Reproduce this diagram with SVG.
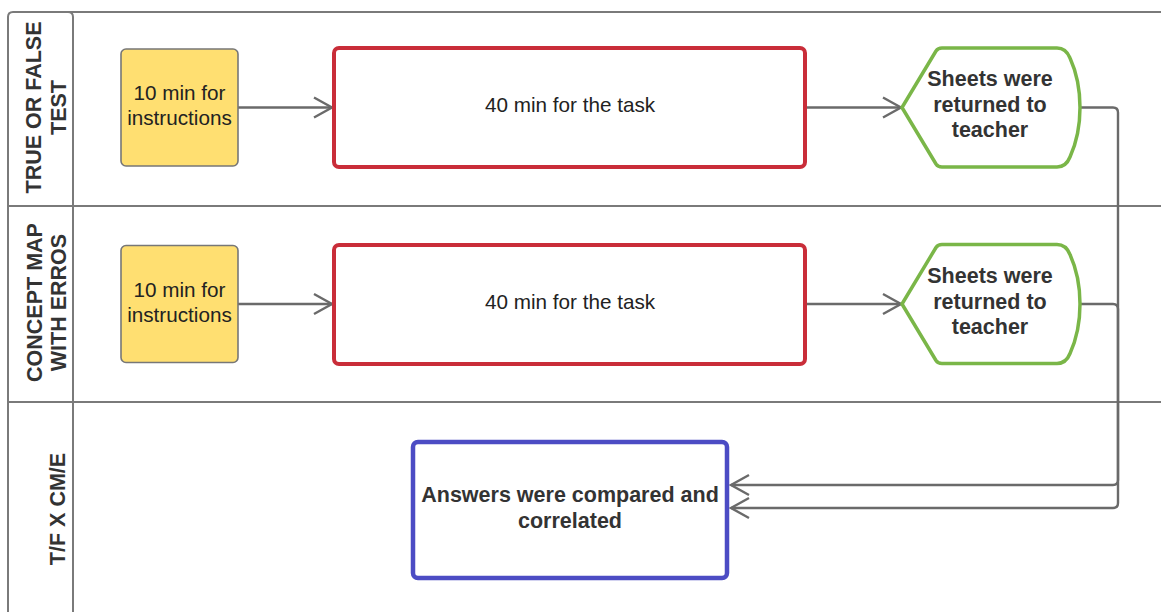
<svg xmlns="http://www.w3.org/2000/svg" width="1161" height="612" viewBox="0 0 1161 612">
<defs>
<style>
.lane{fill:none;stroke:#7a7a7a;stroke-width:2}
.hdr{font-family:"Liberation Sans",Arial,sans-serif;font-weight:bold;font-size:21.5px;fill:#333;text-anchor:middle}
.txt{font-family:"Liberation Sans",Arial,sans-serif;font-size:20.7px;fill:#222;text-anchor:middle}
.btxt{font-family:"Liberation Sans",Arial,sans-serif;font-weight:bold;font-size:21.5px;fill:#333;text-anchor:middle}
.yellow{fill:#ffdf71;stroke:#777;stroke-width:1.6}
.red{fill:#fff;stroke:#c92d39;stroke-width:4}
.green{fill:#fff;stroke:#7ab648;stroke-width:3.5;stroke-linejoin:round}
.blue{fill:#fff;stroke:#4c4cc4;stroke-width:4.5}
.conn{fill:none;stroke:#6a6a6a;stroke-width:2.4;stroke-linejoin:round}
</style>
<marker id="arr" markerUnits="userSpaceOnUse" markerWidth="24" markerHeight="24" viewBox="-20 -12 24 24" refX="0" refY="0" orient="auto">
<path d="M-18,-10 L0,0 L-18,10" fill="none" stroke="#6a6a6a" stroke-width="2.4"/>
</marker>
</defs>
<rect width="1161" height="612" fill="#fff"/>
<g id="pool">
<path class="lane" d="M8,620 L8,17 Q8,12 13,12 L68,12 Q73,12 73,17 L73,620"/>
<path class="lane" d="M68,12 L1161,12"/>
<path class="lane" d="M8,206 L1161,206"/>
<path class="lane" d="M8,402 L1161,402"/>
</g>
<g id="lane-headers">
<g id="hdr1" transform="translate(0,107.5) rotate(-90)">
<text class="hdr" x="0" y="41">TRUE OR FALSE</text>
<text class="hdr" x="0" y="66">TEST</text>
</g>
<g id="hdr2" transform="translate(0,302.5) rotate(-90)">
<text class="hdr" x="0" y="41.5">CONCEPT MAP</text>
<text class="hdr" x="0" y="65.5">WITH ERROS</text>
</g>
<g id="hdr3" transform="translate(0,509) rotate(-90)">
<text class="hdr" x="0" y="65">T/F X CM/E</text>
</g>
</g>
<g id="connectors">
<path class="conn" marker-end="url(#arr)" d="M238,107.5 L332,107.5"/>
<path class="conn" marker-end="url(#arr)" d="M806,107.5 L901,107.5"/>
<path class="conn" marker-end="url(#arr)" d="M238,304 L332,304"/>
<path class="conn" marker-end="url(#arr)" d="M806,304 L901,304"/>
<path class="conn" marker-end="url(#arr)" d="M1080,107.5 L1113,107.5 Q1118,107.5 1118,112.5 L1118,480 Q1118,485 1113,485 L731,485"/>
<path class="conn" marker-end="url(#arr)" d="M1080,304 L1113,304 Q1118,304 1118,309 L1118,503 Q1118,508 1113,508 L731,508"/>
</g>
<g id="n-instr1">
<rect class="yellow" x="121" y="49" width="117" height="117" rx="5"/>
<text class="txt" x="179.5" y="100">10 min for</text>
<text class="txt" x="179.5" y="125">instructions</text>
</g>
<g id="n-task1">
<rect class="red" x="334" y="48" width="471" height="119" rx="5"/>
<text class="txt" x="570" y="112">40 min for the task</text>
</g>
<g id="n-sheets1">
<path class="green" d="M902,107.5 L936,51 Q938,48 942,48 L1057,48 Q1066,48 1070,58 Q1080,80 1080,107.5 Q1080,135 1070,157 Q1066,167 1057,167 L942,167 Q938,167 936,164 Z"/>
<text class="btxt" x="990" y="86">Sheets were</text>
<text class="btxt" x="990" y="112">returned to</text>
<text class="btxt" x="990" y="137">teacher</text>
</g>
<g id="n-instr2">
<rect class="yellow" x="121" y="245.5" width="117" height="117" rx="5"/>
<text class="txt" x="179.5" y="297">10 min for</text>
<text class="txt" x="179.5" y="322">instructions</text>
</g>
<g id="n-task2">
<rect class="red" x="334" y="245" width="471" height="119" rx="5"/>
<text class="txt" x="570" y="309">40 min for the task</text>
</g>
<g id="n-sheets2">
<path class="green" d="M902,304 L936,247.5 Q938,244.5 942,244.5 L1057,244.5 Q1066,244.5 1070,254.5 Q1080,276.5 1080,304 Q1080,331.5 1070,353.5 Q1066,363.5 1057,363.5 L942,363.5 Q938,363.5 936,360.5 Z"/>
<text class="btxt" x="990" y="283">Sheets were</text>
<text class="btxt" x="990" y="309">returned to</text>
<text class="btxt" x="990" y="334">teacher</text>
</g>
<g id="n-answers">
<rect class="blue" x="413" y="442" width="314" height="136" rx="5"/>
<text class="btxt" x="570" y="502">Answers were compared and</text>
<text class="btxt" x="570" y="528">correlated</text>
</g>
</svg>
